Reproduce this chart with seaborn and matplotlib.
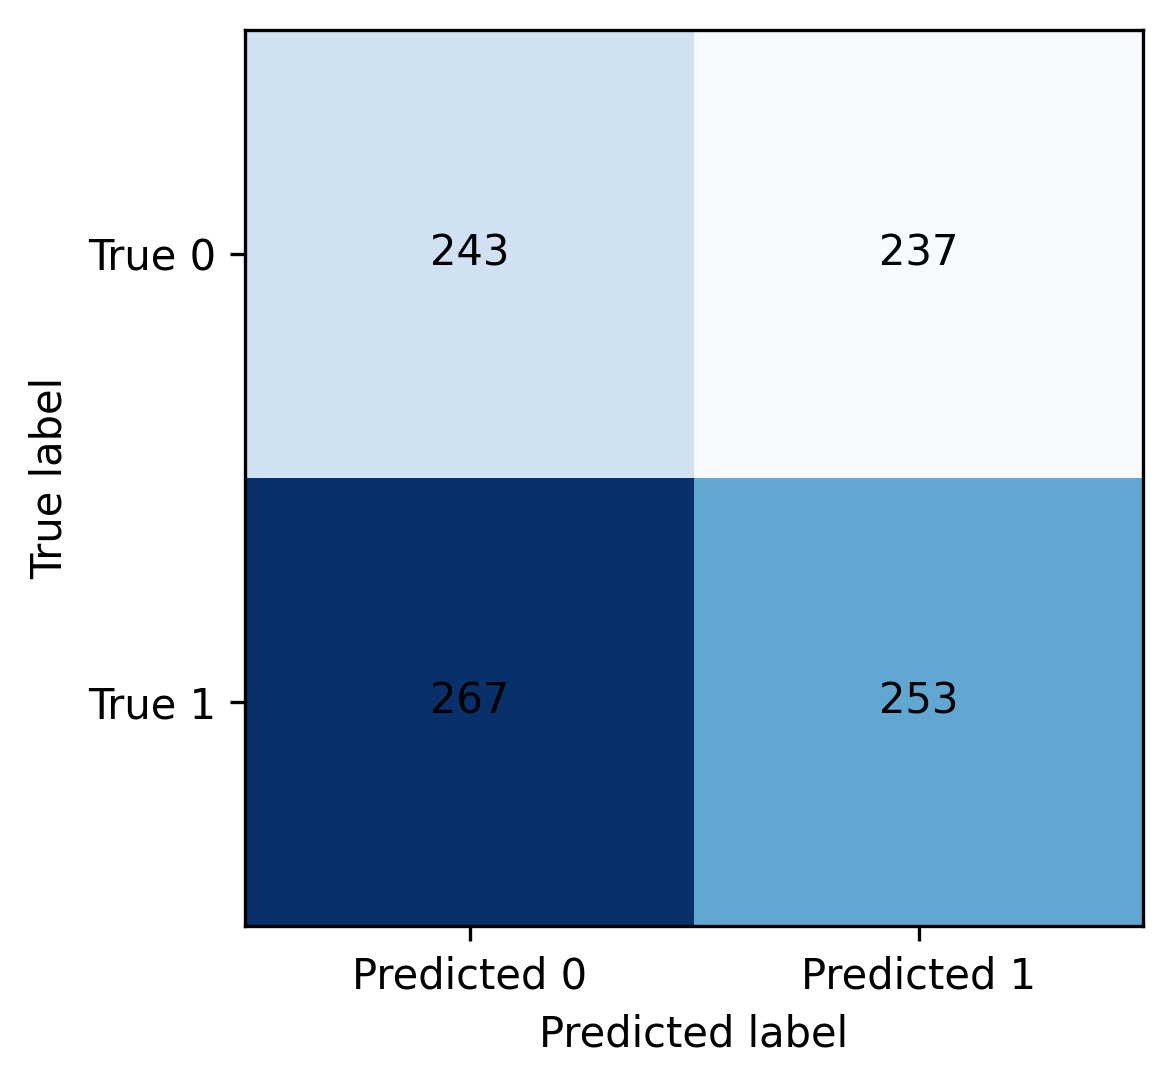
import numpy as np
import pandas as pd
import seaborn as sns
import matplotlib
matplotlib.use('Agg')
import matplotlib.pyplot as plt

# confusion matrix values
row_labels = ['True 0', 'True 1']
col_labels = ['Predicted 0', 'Predicted 1']
counts_true0 = [243, 237]
counts_true1 = [267, 253]

df = pd.DataFrame([counts_true0, counts_true1], index=row_labels, columns=col_labels)

fig = plt.figure(figsize=(1172 / 300, 1086 / 300), dpi=300)
ax = fig.add_axes([245 / 1172, 1 - 926 / 1086, 898 / 1172, 896 / 1086])

sns.heatmap(df, cmap='Blues', annot=True, fmt='d', cbar=False, ax=ax,
            annot_kws={'color': 'black', 'fontsize': 10})

for s in ax.spines.values():
    s.set_visible(True)
    s.set_color('black')
    s.set_linewidth(0.8)

ax.tick_params(axis='both', length=3.5, width=0.8, labelsize=10, colors='black')
ax.set_yticklabels(row_labels, rotation=0, va='center_baseline')
ax.set_xticklabels(col_labels, rotation=0)
ax.set_xlabel('Predicted label', fontsize=10)
ax.set_ylabel('True label', fontsize=10)

fig.savefig('out.png', dpi=300)
